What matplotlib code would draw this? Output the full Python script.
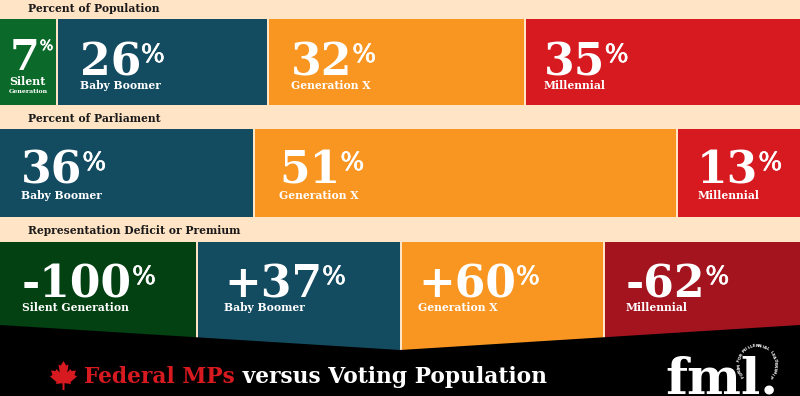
import matplotlib
matplotlib.use('Agg')
import matplotlib.pyplot as plt
import matplotlib.patheffects as pe
import numpy as np

# COLOURS
CREAM = '#FFE4C6'
GREEN = '#0B6A2A'
DARK_GREEN = '#034012'
BLUE = '#134B60'
ORANGE = '#F99622'
RED = '#D71920'
DARK_RED = '#A4141F'

# ROW 1
pop_labels = ['Silent\nGeneration', 'Baby Boomer', 'Generation X', 'Millennial']
pop_values = ['7', '26', '32', '35']
pop_widths = [7.2, 26.4, 32.2, 34.2]
pop_colors = [GREEN, BLUE, ORANGE, RED]
pop_pad = [10, 22, 22, 17]

# ROW 2
parl_labels = ['Baby Boomer', 'Generation X', 'Millennial']
parl_values = ['36', '51', '13']
parl_widths = [31.9, 52.85, 15.25]
parl_colors = [BLUE, ORANGE, RED]
parl_pad = [21, 24, 19]

# ROW 3
diff_labels = ['Silent Generation', 'Baby Boomer', 'Generation X', 'Millennial']
diff_values = ['-100', '+37', '+60', '-62']
diff_widths = [24.75, 25.5, 25.35, 24.4]
diff_colors = [DARK_GREEN, BLUE, ORANGE, DARK_RED]
diff_pad = [22, 26, 16, 21]

row_titles = ['Percent of Population', 'Percent of Parliament', 'Representation Deficit or Premium']
title_red = 'Federal MPs'
title_white = ' versus Voting Population'
ring_text = 'FORUM FOR MILLENNIAL LEADERSHIP'

SERIF = 'DejaVu Serif'
PX = 0.72  # points per pixel at dpi 100
GAP = 0.25

fig = plt.figure(figsize=(8, 3.96), dpi=100, facecolor=CREAM)
ax = fig.add_axes([0, 0, 1, 1])
ax.set_xlim(0, 100)
ax.set_ylim(396, 0)
ax.axis('off')
renderer = fig.canvas.get_renderer()
thin = [pe.withStroke(linewidth=0.5, foreground='white')]


def put(x, y, s, size, color='white', dx=0):
    return ax.annotate(s, (x, y), xytext=(dx, 0), textcoords='offset pixels',
                       fontsize=size * PX, color=color, family=SERIF, weight='bold',
                       va='baseline', ha='left')


def big_number(x, y, value, pad, size=44, pct=25, rise=13):
    t = put(x, y, value, size, dx=pad)
    box = t.get_window_extent(renderer)
    x0 = ax.transData.transform((x, y))[0]
    ax.annotate('%', (x, y), xytext=(box.x1 - x0, rise), textcoords='offset pixels',
                fontsize=pct * PX, color='white', family=SERIF, va='baseline', ha='left',
                path_effects=thin)


def draw_row(top, height, widths, colors, values, labels, pads, num_y, lab_y):
    left = 0
    for i, (w, c, v, l, p) in enumerate(zip(widths, colors, values, labels, pads)):
        # last box runs to the edge of the picture
        bar_w = w if i == len(widths) - 1 else w - GAP
        ax.barh(top + height / 2, bar_w, height=height, left=left, color=c, edgecolor='none')
        if '\n' in l:
            # narrow silent generation box
            big_number(left, num_y - 5, v, p, size=43, pct=14, rise=20)
            a, b = l.split('\n')
            put(left, 85, a, 11, dx=9)
            put(left, 93, b, 6.3, dx=9)
        else:
            big_number(left, num_y, v, p)
            put(left, lab_y, l, 10.8, dx=p)
        left += w


draw_row(19, 86, pop_widths, pop_colors, pop_values, pop_labels, pop_pad, 75, 89)
draw_row(129, 88, parl_widths, parl_colors, parl_values, parl_labels, parl_pad, 183, 199)
draw_row(242, 130, diff_widths, diff_colors, diff_values, diff_labels, diff_pad, 297, 311)

for title, y in zip(row_titles, [12, 122, 234]):
    put(3.5, y, title, 10.7, color='#1a1a1a')

# BLACK FOOTER
ax.fill([0, 50, 100, 100, 0], [325, 350, 325, 396, 396], color='black', lw=0, zorder=3)

# MAPLE LEAF
half_x = [0, 2.7, 5, 3.8, 7, 8, 12.5, 11, 13.5, 7, 7.5, 1, 1]
half_y = [-14, -9.5, -10.5, -2.5, -6, -4, -4.5, 0, 1.5, 7, 9, 8.2, 15]
leaf_x = np.array(half_x + [-v for v in half_x[:0:-1]])
leaf_y = np.array(half_y + half_y[:0:-1])
ax.fill((63.5 + leaf_x) / 8, 375 + leaf_y, color=RED, lw=0, zorder=4)

# FOOTER TITLE
t1 = put(84 / 8, 383, title_red, 21.8, color=RED)
t1.set_zorder(4)
x0 = ax.transData.transform((84 / 8, 383))[0]
t2 = put(84 / 8, 383, title_white, 21.8, dx=t1.get_window_extent(renderer).x1 - x0)
t2.set_zorder(4)

# LOGO
ax.text(665 / 8, 394, 'fml.', fontsize=51 * PX, color='white', family=SERIF, weight='bold',
        va='baseline', ha='left', zorder=4)
angles = np.linspace(-130, 130, len(ring_text))
for ch, ang in zip(ring_text, angles):
    a = np.radians(ang)
    ax.text((757 + 18 * np.sin(a)) / 8, 364 - 18 * np.cos(a), ch, fontsize=3.0, color='white',
            weight='bold', rotation=-ang, rotation_mode='anchor', ha='center', va='center', zorder=5)

fig.savefig('out.png', dpi=100, facecolor=CREAM)
